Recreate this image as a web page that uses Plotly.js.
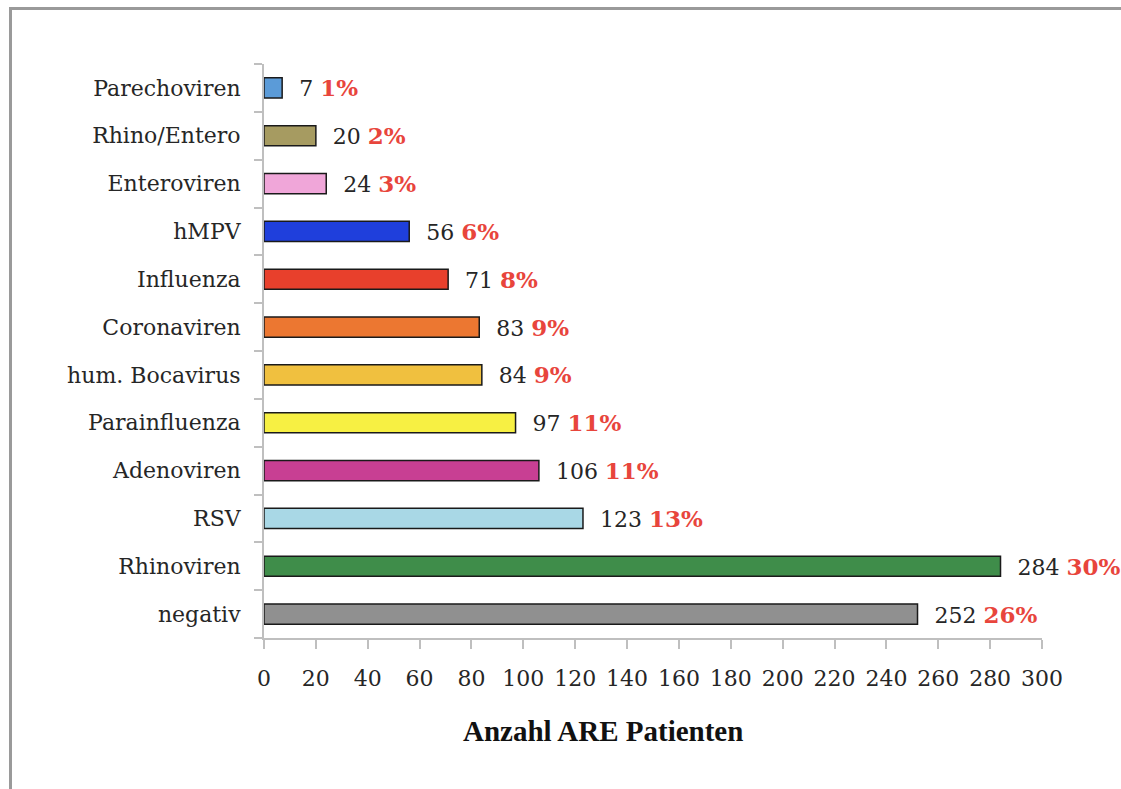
<!DOCTYPE html>
<html>
<head>
<meta charset="utf-8">
<script src="https://cdn.plot.ly/plotly-3.0.1.min.js"></script>
<style>
  html, body { margin: 0; padding: 0; background: #fff; }
  #wrap { position: relative; width: 1121px; height: 789px; }
  #chart { position: absolute; left: 0; top: 0; width: 1121px; height: 789px; }
  #frame { position: absolute; left: 9px; top: 7px; right: 0; bottom: -5px;
           border-top: 3px solid #9a9a9a; border-left: 3px solid #9a9a9a; pointer-events: none; }
</style>
</head>
<body>
<div id="wrap">
  <div id="chart"></div>
  <div id="frame"></div>
</div>
<script>
// Categories listed bottom to top
const categories = ["negativ", "Rhinoviren", "RSV", "Adenoviren", "Parainfluenza",
  "hum. Bocavirus", "Coronaviren", "Influenza", "hMPV", "Enteroviren", "Rhino/Entero", "Parechoviren"];
const counts = [252, 284, 123, 106, 97, 84, 83, 71, 56, 24, 20, 7];
const percents = ["26%", "30%", "13%", "11%", "11%", "9%", "9%", "8%", "6%", "3%", "2%", "1%"];
const barColors = ["#909090", "#3f8d4a", "#a9d8e6", "#c83f93", "#f7f043", "#f0c03f",
  "#ec7731", "#e8402c", "#1f3fdc", "#f0a6d9", "#a69b61", "#5b9bd8"];
const xTicks = [0, 20, 40, 60, 80, 100, 120, 140, 160, 180, 200, 220, 240, 260, 280, 300];
const axisTitle = "Anzahl ARE Patienten";

const FONT = "'DejaVu Serif', 'Liberation Serif', serif";
const labels = counts.map((c, i) =>
  "\u00a0\u00a0" + c + " <b><span style='color:#e8453c;font-size:23px'>" + percents[i] + "</span></b>");

const trace = {
  type: "bar",
  orientation: "h",
  y: categories,
  x: counts,
  width: 0.42,
  marker: { color: barColors, line: { color: "#1a1a1a", width: 1.5 } },
  text: labels,
  textposition: "outside",
  constraintext: "none",
  cliponaxis: false,
  textfont: { family: FONT, size: 22, color: "#262626" },
  hoverinfo: "none"
};

const layout = {
  width: 1121,
  height: 789,
  margin: { l: 264, r: 79, t: 64, b: 151 },
  paper_bgcolor: "rgba(0,0,0,0)",
  plot_bgcolor: "rgba(0,0,0,0)",
  showlegend: false,
  font: { family: FONT, size: 22, color: "#262626" },
  xaxis: {
    range: [0, 300],
    tickvals: xTicks,
    ticktext: xTicks.map(String),
    ticks: "outside",
    ticklen: 9,
    tickwidth: 2,
    tickcolor: "#bfbfbf",
    showline: true,
    linecolor: "#bfbfbf",
    linewidth: 2,
    showgrid: false,
    zeroline: false,
    ticklabelstandoff: 11,
    tickfont: { family: FONT, size: 22, color: "#262626" },
    fixedrange: true
  },
  yaxis: {
    type: "category",
    categoryorder: "array",
    categoryarray: categories,
    ticks: "outside",
    tickson: "boundaries",
    ticklen: 8,
    tickwidth: 2,
    tickcolor: "#bfbfbf",
    showline: true,
    linecolor: "#bfbfbf",
    linewidth: 2,
    showgrid: false,
    zeroline: false,
    ticklabelstandoff: 17,
    tickfont: { family: FONT, size: 22, color: "#262626" },
    fixedrange: true
  },
  annotations: [{
    text: "<b>" + axisTitle + "</b>",
    xref: "paper", yref: "paper",
    x: 0.4357, y: -0.162,
    xanchor: "center", yanchor: "middle",
    showarrow: false,
    font: { family: "'Liberation Serif', serif", size: 29, color: "#111" }
  }]
};

Plotly.newPlot("chart", [trace], layout, { displayModeBar: false, staticPlot: true });
</script>
</body>
</html>
